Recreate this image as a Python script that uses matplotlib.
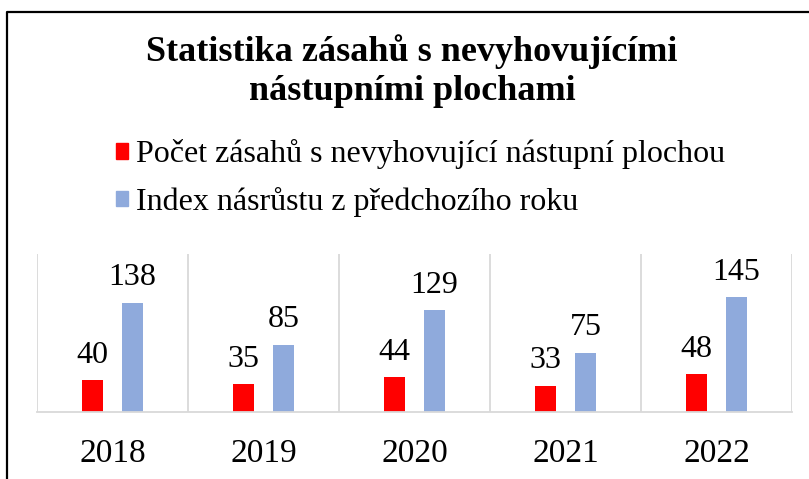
import matplotlib
matplotlib.use("Agg")
import matplotlib.pyplot as plt
from matplotlib.patches import Patch
from matplotlib.lines import Line2D
import numpy as np

plt.rcParams['font.family'] = ['Liberation Serif', 'DejaVu Serif']

years = ['2018', '2019', '2020', '2021', '2022']
zasahy = [40, 35, 44, 33, 48]
index = [138, 85, 129, 75, 145]

title_1 = 'Statistika zásahů s nevyhovujícími'
title_2 = 'nástupními plochami'
label_zasahy = 'Počet zásahů s nevyhovující nástupní plochou'
label_index = 'Index násrůstu z předchozího roku'

red = '#ff0000'
blue = '#8faadc'

fig = plt.figure(figsize=(8.09, 4.79), dpi=100)

# ramecek grafu (pravy a dolni okraj jsou mimo obrazek)
fx = 7 / 809
fy = 1 - 12 / 479
fig.lines.append(Line2D([fx, fx, 1.01], [-0.01, fy, fy], transform=fig.transFigure,
                        color='black', linewidth=1.6))

ax = fig.add_axes([37 / 809, 67 / 479, 755 / 809, 158 / 479])

x = np.arange(len(years))
off = 0.132
w = 0.139
b1 = ax.bar(x - off, zasahy, w, color=red)
b2 = ax.bar(x + off, index, w, color=blue)

for bars in (b1, b2):
    for r in bars:
        ax.text(r.get_x() + r.get_width() / 2, r.get_height() + 25 / 0.79,
                str(int(r.get_height())), ha='center', va='center', fontsize=23)

ax.set_xlim(-0.5, len(years) - 0.5)
ax.set_ylim(0, 200)
ax.set_xticks(x)
ax.set_xticklabels(years, fontsize=24)
ax.set_xticks(np.arange(-0.5, len(years)), minor=True)
ax.tick_params(axis='x', which='both', length=0, pad=19)
ax.set_yticks([])
ax.grid(axis='x', which='minor', color='#d9d9d9', linewidth=1.3)
for s in ['top', 'left', 'right']:
    ax.spines[s].set_visible(False)
ax.spines['bottom'].set_color('#d9d9d9')
ax.spines['bottom'].set_linewidth(1.3)

# nadpis na dva radky
fig.text(412 / 809, 1 - 52 / 479, title_1, ha='center', va='center',
         fontsize=26, fontweight='bold')
fig.text(412 / 809, 1 - 91 / 479, title_2, ha='center', va='center',
         fontsize=26, fontweight='bold')

handles = [Patch(color=red, label=label_zasahy), Patch(color=blue, label=label_index)]
fig.legend(handles=handles, loc='upper left', bbox_to_anchor=(94 / 809, 1 - 117 / 479),
           frameon=False, fontsize=23, handlelength=0.37, handleheight=0.37,
           handletextpad=0.25, labelspacing=0.55, borderpad=0.2)

fig.savefig('out.png', dpi=100)
